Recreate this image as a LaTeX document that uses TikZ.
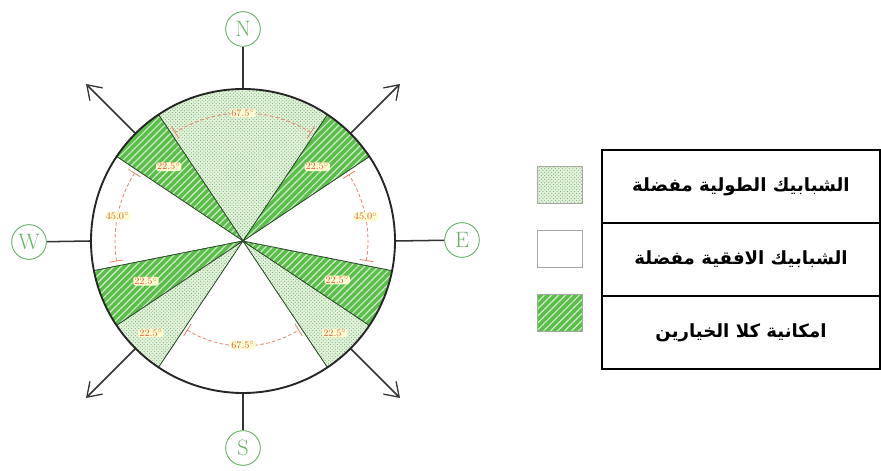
\documentclass[tikz,border=0pt]{standalone}
\usepackage{fontspec}
\newfontfamily\arabicfont[Script=Arabic]{DejaVu Sans}
\TeXXeTstate=1
\usetikzlibrary{arrows.meta, positioning, patterns, patterns.meta}

\definecolor{hgreen}{RGB}{92,190,74}
\definecolor{sgreen}{RGB}{226,243,218}
\definecolor{dotgreen}{RGB}{120,172,120}
\definecolor{cgreen}{RGB}{104,178,104}
\definecolor{dimred}{RGB}{222,92,60}
\definecolor{edgegreen}{RGB}{40,70,40}

\begin{document}
\begin{tikzpicture}[
    x=0.3mm, y=0.3mm,
    sector/.style={draw=edgegreen, line width=0.6pt},
    stip/.style={sector, preaction={fill=sgreen}, pattern=crosshatch dots, pattern color=dotgreen},
    hatch/.style={sector, preaction={fill=hgreen}, pattern={Lines[angle=45, distance=4.2pt, line width=1pt]}, pattern color=white!70!hgreen},
    blank/.style={sector, fill=white},
    rose/.style={circle, draw=black!85, line width=1.6pt, minimum size=91.2mm, inner sep=0pt},
    compass/.style={circle, draw=cgreen, line width=0.8pt, text=cgreen, font=\fontsize{19}{19}\selectfont, minimum size=10.4mm, inner sep=0pt},
    pointer/.style={draw=black!80, line width=1.3pt, -{Straight Barb[length=4mm, width=5.4mm, line width=1.1pt]}},
    stem/.style={draw=black!80, line width=1.3pt},
    dimarc/.style={draw=dimred!75, line width=0.7pt, densely dashed},
    dimtick/.style={draw=dimred!75, line width=0.7pt},
    dimlbl/.style={fill=yellow!18, rounded corners=1.5pt, inner sep=0.8pt, text=dimred, font=\fontsize{8.5}{9}\selectfont},
    legrow/.style={rectangle, draw=black, line width=1.1pt, outer sep=0pt, minimum width=83.4mm, minimum height=21.9mm, font=\arabicfont\bfseries\fontsize{15.5}{17}\selectfont},
    swatch/.style={rectangle, draw=black!35, line width=0.6pt, minimum width=13.5mm, minimum height=11mm, inner sep=0pt}
]
    \useasboundingbox (-243,-230) rectangle (638,241);

    \coordinate (c) at (0,0);

    % Sektoren
    \foreach \a/\b/\kind in {56.25/123.75/stip, 123.75/146.25/hatch, 146.25/191.25/blank,
        191.25/213.75/hatch, 213.75/236.25/stip, 236.25/303.75/blank, 303.75/326.25/stip,
        326.25/348.75/hatch, -11.25/33.75/blank, 33.75/56.25/hatch}
        \draw[\kind] (c) -- (\a:152) arc[start angle=\a, end angle=\b, radius=152] -- cycle;

    % Winkelmasse
    \foreach \a/\b/\r in {58/122/128, 148/189/128, -9/32/125, 238/302/105}
    {
        \draw[dimarc] (\a:\r) arc[start angle=\a, end angle=\b, radius=\r];
        \draw[dimtick] ({\a}:{\r-7}) -- ({\a}:{\r+7});
        \draw[dimtick] ({\b}:{\r-7}) -- ({\b}:{\r+7});
    }
    \foreach \w/\r/\t [count=\i] in {90/128/67.5, 135/105/22.5, 45/105/22.5,
        168.75/128/45.0, 11.25/125/45.0, 202.5/105/22.5, 337.5/102/22.5,
        225/130/22.5, 315/130/22.5, 270/104/67.5}
        \node[dimlbl] (lbl\i) at (\w:\r) {\t$^\circ$};

    % Kreis und Himmelsrichtungen
    \node[rose] (rose) at (c) {};

    \node[compass] (north) at (0,212) {N};
    \node[compass] (south) at (0,-207) {S};
    \node[compass] (west) at (-214,-1) {W};
    \node[compass] (east) at (219,1) {E};

    \draw[stem] (rose.north) -- (north);
    \draw[stem] (rose.south) -- (south);
    \draw[stem] (rose.west) -- (west);
    \draw[stem] (rose.east) -- (east);

    \foreach \w/\tip in {45/tipNE, 135/tipNW, 225/tipSW, 315/tipSE}
    {
        \coordinate (\tip) at (\w:222);
        \draw[pointer] (rose.\w) -- (\tip);
    }

    % Legende
    \node[swatch, preaction={fill=sgreen}, pattern=crosshatch dots, pattern color=dotgreen] (keyStip) at (317,56) {};
    \node[swatch, fill=white] (keyBlank) at (317,-8) {};
    \node[swatch, preaction={fill=hgreen}, pattern={Lines[angle=45, distance=4.2pt, line width=1pt]}, pattern color=white!70!hgreen] (keyHatch) at (317,-72) {};

    \node[legrow] (row1) at (498,54.5) {\beginR الشبابيك الطولية مفضلة\endR};
    \node[legrow, below=0pt of row1] (row2) {\beginR الشبابيك الافقية مفضلة\endR};
    \node[legrow, below=0pt of row2] (row3) {\beginR امكانية كلا الخيارين\endR};

\end{tikzpicture}
\end{document}
